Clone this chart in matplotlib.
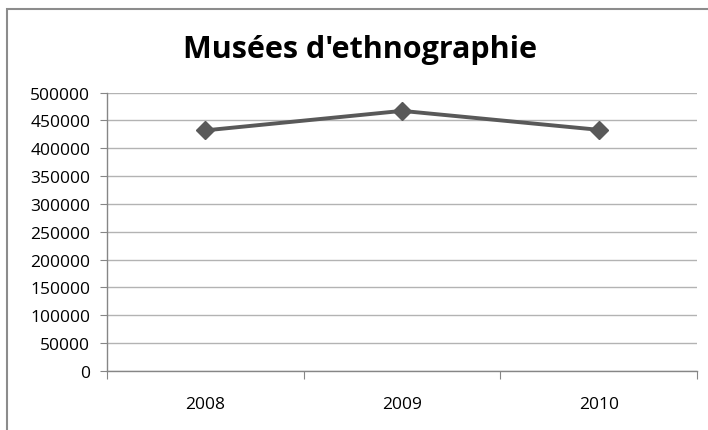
import matplotlib.pyplot as plt
from matplotlib.patches import Rectangle

# données
years = ['2008', '2009', '2010']
visitors = [432000, 467000, 433000]
y_ticks = list(range(0, 500001, 50000))
title = "Musées d'ethnographie"

plt.rcParams['font.family'] = ['Open Sans', 'DejaVu Sans']

fig = plt.figure(figsize=(7.08, 4.31), dpi=100)
# cadre extérieur (coupé à droite et en bas)
fig.patches.append(Rectangle((6.5 / 708, -0.05), 1.1, 1 - 9.5 / 431 + 0.05,
                             transform=fig.transFigure, fill=False,
                             edgecolor='#8c8c8c', linewidth=1.5))

ax = fig.add_axes([107 / 708, 59 / 431, 590 / 708, 278.5 / 431])
x = [i + 0.5 for i in range(len(years))]
ax.plot(x, visitors, color='#595959', linewidth=2.8, marker='D',
        markersize=9, zorder=3)

ax.set_xlim(0, len(years))
ax.set_ylim(0, 500000)
ax.set_yticks(y_ticks)
ax.set_yticklabels([str(v) for v in y_ticks])
ax.yaxis.grid(True, color='#b3b3b3', linewidth=1)
ax.set_axisbelow(True)

# ticks majeurs aux bords des catégories, étiquettes au centre
ax.set_xticks(range(len(years) + 1))
ax.set_xticklabels([''] * (len(years) + 1))
ax.set_xticks(x, minor=True)
ax.set_xticklabels(years, minor=True)
ax.tick_params(axis='x', which='major', length=6, color='#868686', direction='out')
ax.tick_params(axis='x', which='minor', length=0, pad=18, labelsize=12.5)
ax.tick_params(axis='y', length=5, color='#868686', pad=7, labelsize=12.5)

for s in ['top', 'right']:
    ax.spines[s].set_visible(False)
for s in ['left', 'bottom']:
    ax.spines[s].set_color('#868686')
    ax.spines[s].set_linewidth(1)

fig.text(360 / 708, 1 - 50 / 431, title, ha='center', va='center',
         fontsize=22, fontweight='bold')

plt.savefig('out.png', dpi=100)
